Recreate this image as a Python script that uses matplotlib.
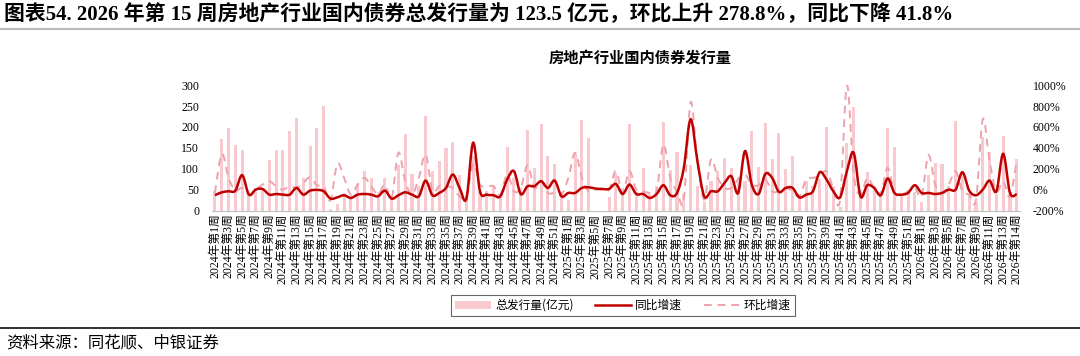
import numpy as np
import matplotlib
matplotlib.use('Agg')
import matplotlib.pyplot as plt
from matplotlib.path import Path
from matplotlib.patches import PathPatch, Patch
from matplotlib.lines import Line2D

plt.rcParams['font.family'] = ['Liberation Serif', 'Noto Sans CJK SC']

# weeks on the x axis: 2024 wk1-52, 2025 wk1-52, 2026 wk1-15
weeks = ([(2024, w) for w in range(1, 53)] + [(2025, w) for w in range(1, 53)]
         + [(2026, w) for w in range(1, 16)])
categories = ['%d年第%d周' % (y, w) for y, w in weeks]

# tick labels as printed on the chart (every other week)
tick_labels = (['2024年第%d周' % w for w in range(1, 52, 2)]
               + ['2025年第%d周' % w for w in range(1, 52, 2)]
               + ['2026年第%d周' % w for w in [1, 3, 5, 7, 9, 11, 13, 14]])

# 总发行量 (亿元)
issue = [46, 172, 198, 156, 144, 40, 54, 54, 120, 144,
         146, 190, 221, 78, 154, 198, 249, 3, 16, 42,
         35, 64, 96, 78, 45, 78, 30, 109, 184, 87,
         60, 226, 96, 118, 150, 165, 85, 35, 130, 45,
         46, 62, 34, 152, 78, 55, 192, 102, 208, 130,
         112, 45, 26, 136, 217, 174, 0, 0, 32, 90,
         55, 208, 45, 102, 40, 60, 213, 98, 141, 40,
         109, 60, 20, 70, 95, 126, 101, 80, 70, 190,
         104, 210, 124, 186, 100, 130, 40, 70, 60, 75,
         200, 60, 10, 162, 248, 50, 93, 60, 45, 197,
         153, 40, 50, 45, 20, 85, 114, 112, 60, 214,
         90, 40, 20, 176, 141, 40, 178, 33, 123.5]

# 同比增速 (%)
yoy = [-52, -24, -14, -8, 140, -46, 2, 8, -46, -40,
       -46, -46, 18, -46, -8, -1, -14, -84, -72, -52,
       -78, -46, -40, -46, -62, -8, -84, -52, -24, -46,
       -62, 88, -52, -30, 18, 146, 18, -84, 450, -14,
       -46, -52, -62, 98, 178, -40, 34, 34, 82, 18,
       88, -62, -30, -30, 18, 24, 12, 8, 8, 56,
       -40, 50, -40, -40, -78, -40, 44, -52, -30, 210,
       674, 274, -62, -14, -14, 66, 130, -30, 370, 50,
       -40, 152, 114, -20, 18, 18, -72, -46, -14, 168,
       98, -14, -72, 178, 354, -62, 44, 18, -52, 108,
       -30, -46, -30, 44, -30, -30, -40, -30, 2, 2,
       168, -8, -52, 2, 88, -14, 344, -30, -41.8]

# 环比增速 (%)
wow = [-30, 344, 114, -8, 18, -46, 2, 50, 82, 34,
       2, 34, 18, 66, 120, 44, 34, -99, 250, 114,
       -46, 50, 114, 34, -46, 50, -78, 354, 82, -46,
       114, 338, -14, 34, 34, 18, -62, -78, 250, 50,
       34, 34, -46, 146, -14, 18, 236, 18, 82, -30,
       -30, -46, 114, 354, 114, -14, 2, 2, 2, 178,
       -30, 178, 2, -14, -30, -14, 434, 114, -14, -95,
       834, 274, -95, 290, 114, 18, 18, 100, 146, 50,
       44, 98, -14, -14, 18, -14, -62, 98, 114, 130,
       178, 18, -95, 1000, 146, -46, 114, 18, -30, 210,
       -30, -46, -14, 18, -62, 332, 50, -30, 50, 178,
       -14, -46, -95, 674, 274, -14, 82, -62, 278.8]

bar_color = '#F8CACF'
yoy_color = '#C00000'
wow_color = '#EDA3AD'


def smooth_path(xs, ys):
    # excel style smoothed line: cubic bezier through every point
    pts = np.column_stack([xs, ys]).astype(float)
    n = len(pts)
    verts = [pts[0]]
    codes = [Path.MOVETO]
    for i in range(n - 1):
        p0 = pts[max(i - 1, 0)]
        p1 = pts[i]
        p2 = pts[i + 1]
        p3 = pts[min(i + 2, n - 1)]
        verts += [p1 + (p2 - p0) / 6.0, p2 - (p3 - p1) / 6.0, p2]
        codes += [Path.CURVE4] * 3
    return Path(verts, codes)


fig = plt.figure(figsize=(10.8, 3.56), dpi=100)

fig.text(0.004, 0.958, '图表54. 2026 年第 15 周房地产行业国内债券总发行量为 123.5 亿元，环比上升 278.8%，同比下降 41.8%',
         fontsize=15, fontweight='bold', ha='left', va='center')
fig.add_artist(Line2D([0, 1], [0.918, 0.918], color='#BBBBBB', lw=1.6))
fig.add_artist(Line2D([0, 1], [0.079, 0.079], color='#222222', lw=1.3))
fig.text(0.006, 0.036, '资料来源：同花顺、中银证券', fontsize=11.8, style='italic',
         ha='left', va='center')
fig.text(0.5925, 0.837, '房地产行业国内债券发行量', fontsize=11, ha='center', va='center',
         fontweight='bold')

ax = fig.add_axes([0.1959, 0.408, 0.7487, 0.353])
x = np.arange(len(categories))
ax.bar(x, issue, width=0.45, color=bar_color, zorder=1)
ax.set_xlim(-0.5, len(categories) - 0.5)
ax.set_ylim(0, 300)
ax.set_yticks(range(0, 301, 50))
ax.tick_params(axis='y', length=0, labelsize=8.5, pad=9)
ax.set_xticks(x[::2])
ax.set_xticklabels(tick_labels, rotation=90, fontsize=8.5)
ax.tick_params(axis='x', length=0, pad=2)
for s in ['top', 'left', 'right']:
    ax.spines[s].set_visible(False)
ax.spines['bottom'].set_color('#BFBFBF')

ax2 = ax.twinx()
ax2.set_ylim(-200, 1000)
ax2.set_yticks(range(-200, 1001, 200))
ax2.set_yticklabels(['%d%%' % v for v in range(-200, 1001, 200)])
ax2.tick_params(axis='y', length=0, labelsize=8.5, pad=9)
for s in ax2.spines.values():
    s.set_visible(False)

ax2.add_patch(PathPatch(smooth_path(x, wow), fill=False, edgecolor=wow_color,
                        lw=1.4, linestyle=(0, (4, 3)), zorder=2))
ax2.add_patch(PathPatch(smooth_path(x, yoy), fill=False, edgecolor=yoy_color,
                        lw=1.8, zorder=3))

handles = [Patch(facecolor=bar_color, edgecolor='none'),
           Line2D([], [], color=yoy_color, lw=1.8),
           Line2D([], [], color=wow_color, lw=1.4, linestyle=(0, (4, 3)))]
leg = fig.legend(handles, ['总发行量(亿元)', '同比增速', '环比增速'], ncol=3,
                 loc='center', bbox_to_anchor=(0.577, 0.142), fontsize=8.5,
                 frameon=True, fancybox=False, edgecolor='#404040',
                 handlelength=3, handleheight=0.6, columnspacing=1.8,
                 borderpad=0.35, handletextpad=0.4)
leg.get_frame().set_linewidth(0.8)
for t in leg.get_texts():
    t.set_family(['Noto Sans CJK SC'])

fig.savefig('out.png', dpi=100)
